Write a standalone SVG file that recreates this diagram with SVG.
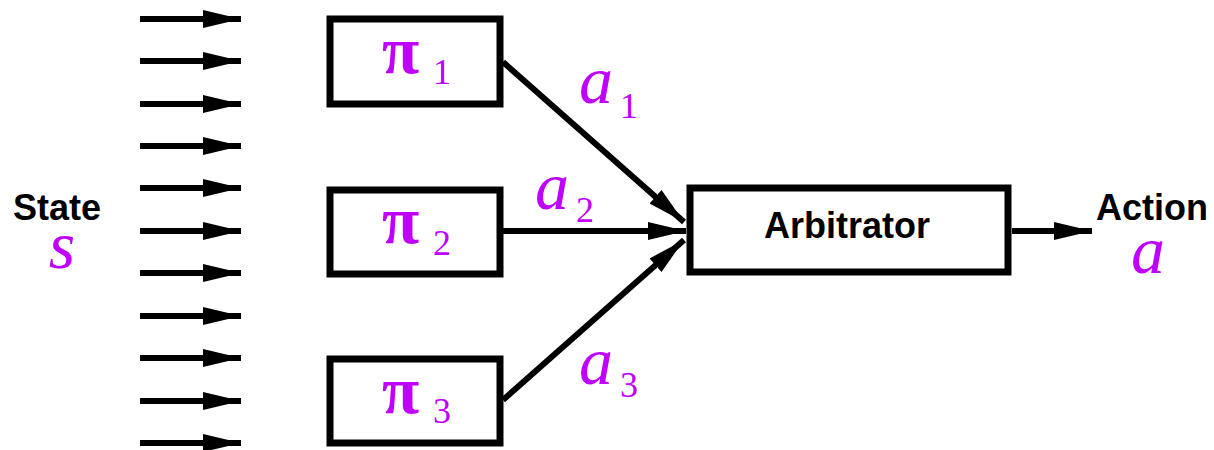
<svg xmlns="http://www.w3.org/2000/svg" width="1214" height="450" viewBox="0 0 1214 450">
<defs>
<marker id="ah" markerUnits="userSpaceOnUse" markerWidth="40" markerHeight="20" refX="38" refY="10" orient="auto" viewBox="0 0 40 20">
<path d="M0,1 L38,10 L0,19 Z" fill="#000"/>
</marker>
</defs>
<style>
.box{fill:#fff;stroke:#000;stroke-width:7}
.ln{stroke:#000;stroke-width:6;fill:none;marker-end:url(#ah)}
.lbl{font-family:"Liberation Sans",Arial,sans-serif;font-weight:bold;font-size:36px;fill:#000}
.m{font-family:"Liberation Serif","Times New Roman",serif;fill:#bf00ff}
.pi{font-size:68px;font-weight:bold}
.sub{font-size:36px}
.it{font-style:italic;font-size:68px}
</style>
<g id="connectors">
<line class="ln" x1="140" y1="19" x2="241" y2="19"/>
<line class="ln" x1="140" y1="61" x2="241" y2="61"/>
<line class="ln" x1="140" y1="104" x2="241" y2="104"/>
<line class="ln" x1="140" y1="146" x2="241" y2="146"/>
<line class="ln" x1="140" y1="188" x2="241" y2="188"/>
<line class="ln" x1="140" y1="231" x2="241" y2="231"/>
<line class="ln" x1="140" y1="273" x2="241" y2="273"/>
<line class="ln" x1="140" y1="316" x2="241" y2="316"/>
<line class="ln" x1="140" y1="358" x2="241" y2="358"/>
<line class="ln" x1="140" y1="401" x2="241" y2="401"/>
<line class="ln" x1="140" y1="443" x2="241" y2="443"/>
<line class="ln" x1="503" y1="62" x2="684" y2="222"/>
<line class="ln" x1="503" y1="231" x2="686" y2="231"/>
<line class="ln" x1="503" y1="400" x2="684" y2="240"/>
<line class="ln" x1="1012" y1="231" x2="1092" y2="231"/>
</g>
<g id="state">
<text class="lbl" x="57" y="220" text-anchor="middle">State</text>
<text class="m it" x="62" y="268" text-anchor="middle">s</text>
</g>
<g id="pi1">
<rect class="box" x="330" y="19" width="170" height="85"/>
<text class="m pi" x="382" y="73">π</text>
<text class="m sub" x="433" y="84">1</text>
</g>
<g id="pi2">
<rect class="box" x="330" y="190" width="170" height="84"/>
<text class="m pi" x="382" y="243">π</text>
<text class="m sub" x="433" y="255">2</text>
</g>
<g id="pi3">
<rect class="box" x="330" y="359" width="170" height="84"/>
<text class="m pi" x="382" y="413">π</text>
<text class="m sub" x="433" y="423">3</text>
</g>
<g id="labels">
<text class="m it" x="579" y="103">a</text>
<text class="m sub" x="620" y="118">1</text>
<text class="m it" x="535" y="209">a</text>
<text class="m sub" x="576" y="222">2</text>
<text class="m it" x="579" y="384">a</text>
<text class="m sub" x="620" y="397">3</text>
</g>
<g id="arbitrator">
<rect class="box" x="690" y="188" width="318" height="84"/>
<text class="lbl" x="847" y="238" text-anchor="middle">Arbitrator</text>
</g>
<g id="action">
<text class="lbl" x="1152" y="220" text-anchor="middle">Action</text>
<text class="m it" x="1148" y="273" text-anchor="middle">a</text>
</g>
</svg>
